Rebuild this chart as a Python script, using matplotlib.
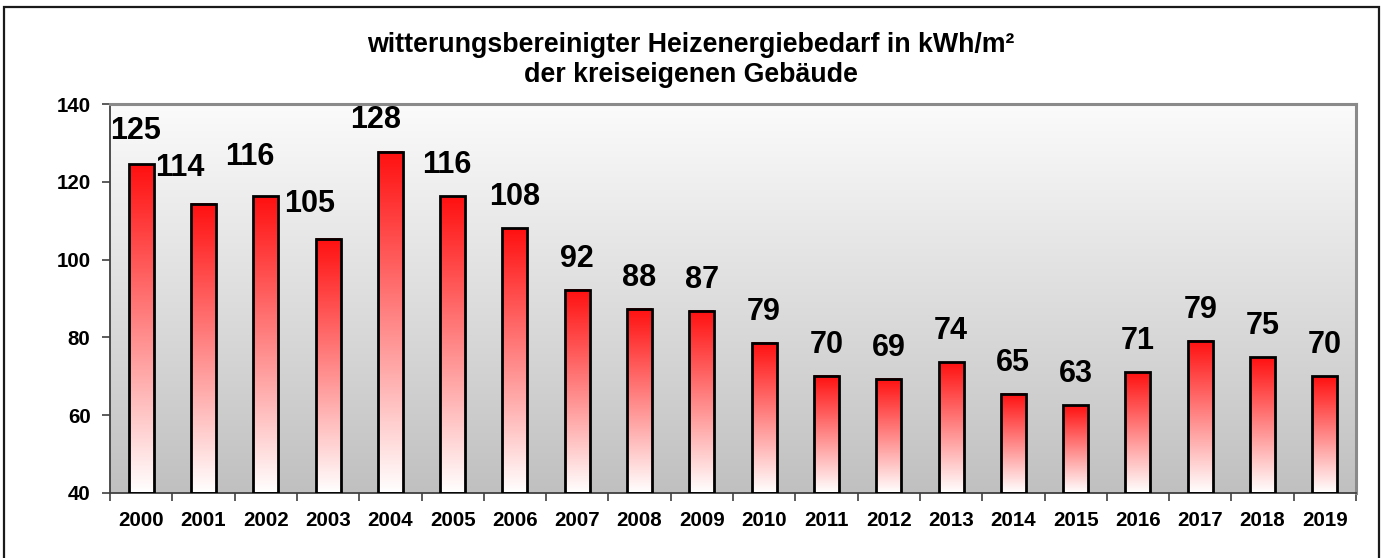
"""
Heizenergiebedarf chart - kreiseigene Gebaeude
"""

import matplotlib
import matplotlib.pyplot as plt
import numpy as np
from matplotlib.colors import LinearSegmentedColormap
from matplotlib.patches import Rectangle

matplotlib.use('Agg')

# Data
years = ['2000', '2001', '2002', '2003', '2004', '2005', '2006', '2007', '2008', '2009',
         '2010', '2011', '2012', '2013', '2014', '2015', '2016', '2017', '2018', '2019']
values = [124.5, 114.3, 116.3, 105.4, 127.7, 116.3, 108.1, 92.2, 87.4, 86.8,
          78.6, 70.1, 69.4, 73.6, 65.5, 62.5, 71.0, 79.2, 74.9, 70.0]
labels = ['125', '114', '116', '105', '128', '116', '108', '92', '88', '87',
          '79', '70', '69', '74', '65', '63', '71', '79', '75', '70']

title = 'witterungsbereinigter Heizenergiebedarf in kWh/m²\nder kreiseigenen Gebäude'

# label nudges in pixels (dx, dy above bar top), the rest sit centered
nudges = {0: (-6, 33), 1: (-24, 36), 2: (-16, 39), 3: (-18, 35), 4: (-15, 32), 5: (-6, 31)}
default_dy = 31

plt.rcParams['font.family'] = ['Liberation Sans', 'DejaVu Sans']
plt.rcParams['font.weight'] = 'bold'

fig = plt.figure(figsize=(13.82, 5.58), dpi=100)
fig.patch.set_facecolor('white')

# Outer frame (cut off at the bottom)
W, H = 1382, 558
fig.patches.append(Rectangle((4 / W, -0.05), (1379 - 4) / W, 1.05 - 7 / H,
                             transform=fig.transFigure, fill=False,
                             edgecolor='#1a1a1a', linewidth=1.6, zorder=0))

ax = fig.add_axes([110 / W, 1 - 493 / H, (1356 - 110) / W, (493 - 104) / H])

# Plot area background gradient (light top -> gray bottom)
bg_cmap = LinearSegmentedColormap.from_list('bg', ['#c0c0c0', '#fbfbfb'])
ax.imshow(np.linspace(0, 1, 256).reshape(-1, 1), cmap=bg_cmap, origin='lower',
          extent=(0, 1, 0, 1), transform=ax.transAxes, aspect='auto', zorder=0)

x = np.arange(len(years))
bars = ax.bar(x, np.array(values) - 40, bottom=40, width=0.4,
              facecolor='none', edgecolor='black', linewidth=2, zorder=3)

# Bar gradient: red at top -> white at bottom
bar_cmap = LinearSegmentedColormap.from_list('bar', ['#ffffff', '#ff1010'])
grad = np.linspace(0, 1, 256).reshape(-1, 1)
for b in bars:
    x0, y0 = b.get_x(), b.get_y()
    ax.imshow(grad, cmap=bar_cmap, origin='lower', aspect='auto',
              extent=(x0, x0 + b.get_width(), y0, y0 + b.get_height()), zorder=2)

# Value labels
for i, b in enumerate(bars):
    dx, dy = nudges.get(i, (0, default_dy))
    ax.annotate(labels[i], (b.get_x() + b.get_width() / 2, b.get_y() + b.get_height()),
                xytext=(dx * 0.72, dy * 0.72), textcoords='offset points',
                ha='center', va='center', fontsize=22, fontweight='bold', zorder=5)

ax.set_xlim(-0.5, len(years) - 0.5)
ax.set_ylim(40, 140)
ax.set_yticks(range(40, 141, 20))

ax.set_xticks(x)
ax.set_xticklabels(years)
ax.set_xticks(np.arange(-0.5, len(years)), minor=True)
ax.tick_params(axis='x', which='major', length=0, pad=13, labelsize=14.8)
ax.tick_params(axis='x', which='minor', length=6, width=1.2, color='#404040', direction='out')
ax.tick_params(axis='y', length=6, width=1.2, color='#404040', direction='out',
               pad=8, labelsize=14.8)

for side in ['left', 'bottom']:
    ax.spines[side].set_color('#404040')
    ax.spines[side].set_linewidth(1.3)
for side in ['top', 'right']:
    ax.spines[side].set_color('#8a8a8a')
    ax.spines[side].set_linewidth(2.2)

fig.text(0.5, 1 - 60 / H, title, ha='center', va='center', fontsize=19.3,
         fontweight='bold', linespacing=1.25)

plt.savefig('out.png', dpi=100, facecolor='white')
plt.close()
